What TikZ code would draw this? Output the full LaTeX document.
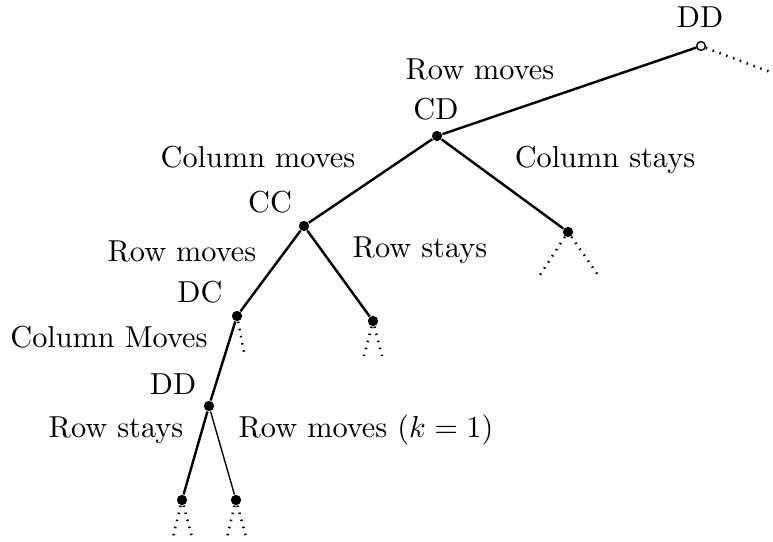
\documentclass[tikz,border=0pt]{standalone}
\begin{document}
\begin{tikzpicture}[x=0.33pt,y=-0.33pt,
  state/.style={circle,fill=black,inner sep=0pt,minimum size=3.4pt},
  openstate/.style={circle,draw=black,fill=white,line width=0.45pt,inner sep=0pt,minimum size=2.9pt},
  lbl/.style={anchor=base,inner sep=0pt,font=\normalsize},
  edge/.style={line width=0.8pt},
  thinedge/.style={line width=0.45pt},
  dots/.style={line width=0.8pt,dash pattern=on 0.5pt off 1.9pt}]
\useasboundingbox (0,0) rectangle (773,542);
% states
\node[openstate] (ddtop) at (701,46) {};
\node[state] (cd) at (437,136) {};
\node[state] (cc) at (304,226) {};
\node[state] (cs) at (568,232) {};
\node[state] (dc) at (237,316) {};
\node[state] (rs) at (373,321) {};
\node[state] (dd2) at (209,406) {};
\node[state] (bl) at (182,500) {};
\node[state] (br) at (236,500) {};
% dotted continuation end points
\coordinate (e1) at (770,72);
\coordinate (e2) at (540,275);
\coordinate (e3) at (598,275);
\coordinate (e4) at (244,352);
\coordinate (e5) at (364,356);
\coordinate (e6) at (382,356);
\coordinate (e7) at (173,537);
\coordinate (e8) at (192,537);
\coordinate (e9) at (227,537);
\coordinate (e10) at (246,537);
% edges
\draw[edge] (cd) -- (ddtop);
\draw[edge] (cd) -- (cc);
\draw[edge] (cd) -- (cs);
\draw[edge] (cc) -- (dc);
\draw[edge] (cc) -- (rs);
\draw[edge] (dc) -- (dd2);
\draw[edge] (dd2) -- (bl);
\draw[thinedge] (dd2) -- (br);
% dotted
\draw[dots] (ddtop) -- (e1);
\draw[dots] (cs) -- (e2);
\draw[dots] (cs) -- (e3);
\draw[dots] (dc) -- (e4);
\draw[dots] (rs) -- (e5);
\draw[dots] (rs) -- (e6);
\draw[dots] (bl) -- (e7);
\draw[dots] (bl) -- (e8);
\draw[dots] (br) -- (e9);
\draw[dots] (br) -- (e10);
% labels
\node[lbl] (lddtop) at (700,28) {DD};
\node[lbl] (lrm1) at (480,80) {Row moves};
\node[lbl] (lcd) at (436,120) {CD};
\node[lbl] (lcm) at (258,168) {Column moves};
\node[lbl] (lcs) at (605,168) {Column stays};
\node[lbl] (lcc) at (270,213) {CC};
\node[lbl] (lrm2) at (182,262) {Row moves};
\node[lbl] (lrs1) at (420,258) {Row stays};
\node[lbl] (ldc) at (200,303) {DC};
\node[lbl] (lcmm) at (109,348) {Column Moves};
\node[lbl] (ldd2) at (173,395) {DD};
\node[lbl] (lrs2) at (116,438) {Row stays};
\node[lbl] (lrmk) at (366,438) {Row moves ($k=1$)};
\end{tikzpicture}
\end{document}
